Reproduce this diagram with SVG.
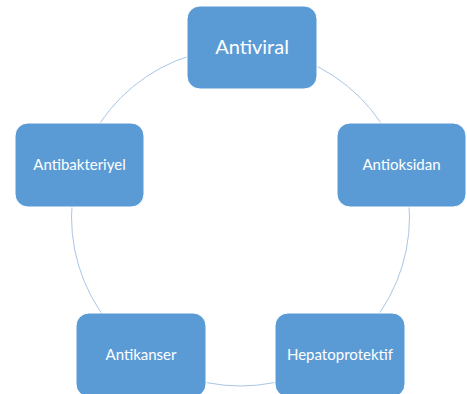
<svg xmlns="http://www.w3.org/2000/svg" width="467" height="394" viewBox="0 0 467 394">
<style>
.box{fill:#5b9bd5;stroke:#ffffff;stroke-width:1}
.lbl{fill:#ffffff;font-family:Lato,"Liberation Sans",sans-serif;font-size:15px;text-anchor:middle}
.big{font-size:20px}
.ring{fill:none;stroke:#a9c6e6;stroke-width:1}
</style>
<rect width="467" height="394" fill="#ffffff"/>
<g id="connectors">
<circle class="ring" cx="240.5" cy="217" r="169"/>
</g>
<g id="antiviral">
<rect class="box" x="187" y="6" width="130" height="83" rx="13"/>
<text class="lbl big" x="252" y="54">Antiviral</text>
</g>
<g id="antibakteriyel">
<rect class="box" x="15" y="123" width="129" height="84" rx="13"/>
<text class="lbl" x="79.5" y="170">Antibakteriyel</text>
</g>
<g id="antioksidan">
<rect class="box" x="337" y="123" width="129" height="84" rx="13"/>
<text class="lbl" x="401.5" y="170">Antioksidan</text>
</g>
<g id="antikanser">
<rect class="box" x="76" y="313" width="130" height="84" rx="13"/>
<text class="lbl" x="141" y="360">Antikanser</text>
</g>
<g id="hepatoprotektif">
<rect class="box" x="275" y="313" width="130" height="84" rx="13"/>
<text class="lbl" x="340" y="360">Hepatoprotektif</text>
</g>
</svg>
